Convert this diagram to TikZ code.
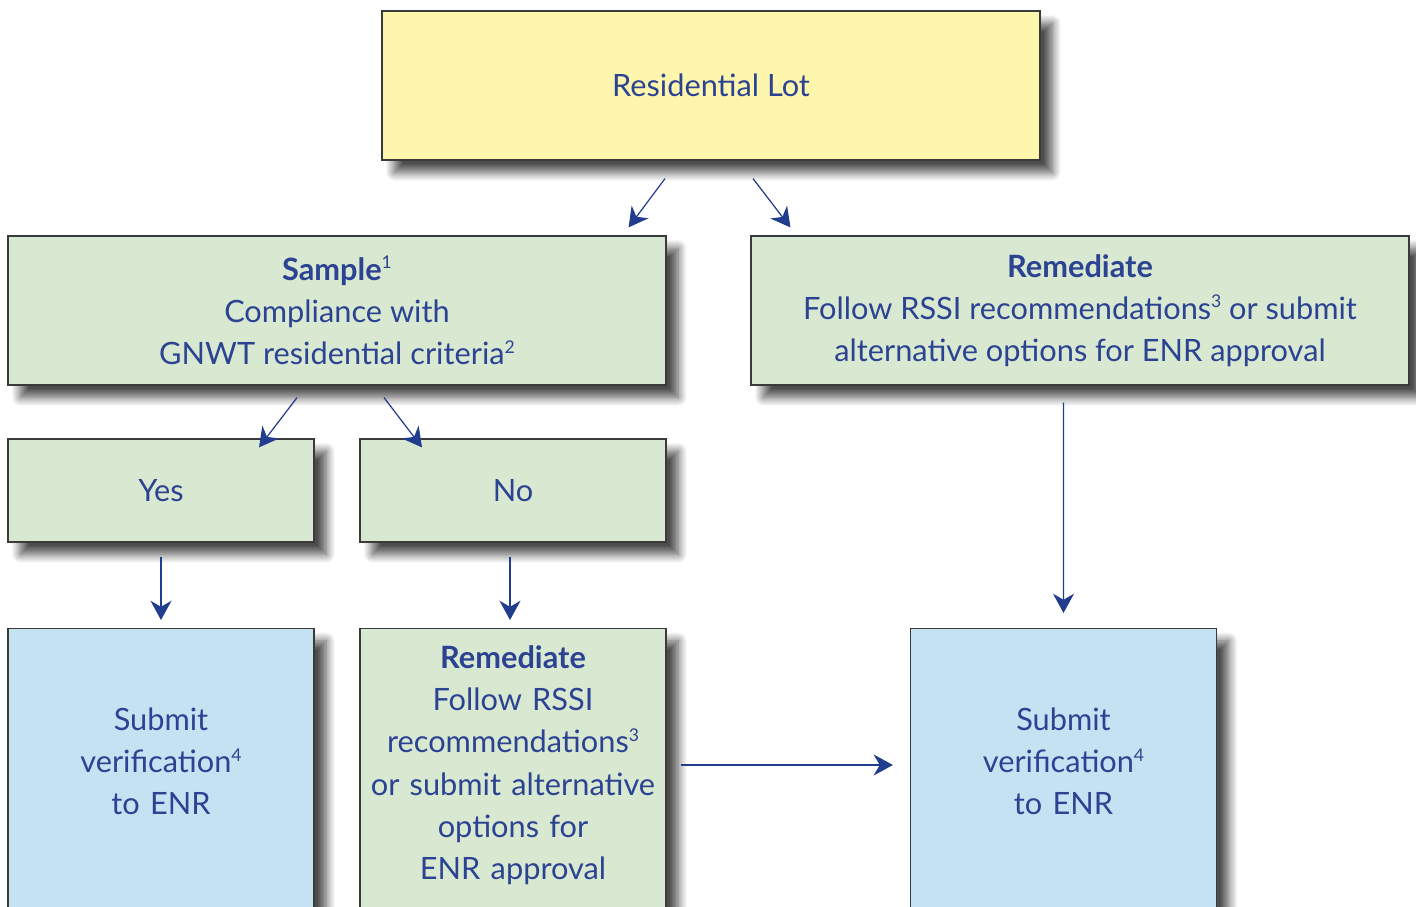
\documentclass[tikz,border=0pt]{standalone}
\usepackage{fontspec}
\setmainfont{Lato}
\usetikzlibrary{positioning, shapes.geometric, arrows.meta}
\usetikzlibrary{calc, shadows.blur}
\definecolor{lotyellow}{HTML}{FFF6AE}
\definecolor{stepgreen}{HTML}{D9E8D0}
\definecolor{submitblue}{HTML}{C5E2F2}
\definecolor{txtblue}{HTML}{2B4392}
\definecolor{arrowblue}{HTML}{223C8E}
\definecolor{edgegray}{HTML}{3A3A3A}
\newcommand{\fnote}[1]{\raisebox{0.75ex}{\fontsize{10}{10}\selectfont #1}}
\tikzstyle{box} = [rectangle, draw=edgegray, line width=0.7pt, text=txtblue, align=center, inner sep=0pt, blur shadow={shadow xshift=7pt, shadow yshift=-7pt, shadow blur radius=5pt, shadow blur steps=12, shadow opacity=70}]
\tikzstyle{lotbox} = [box, fill=lotyellow, minimum width=13.16cm, minimum height=2.98cm]
\tikzstyle{stepbox} = [box, fill=stepgreen, minimum width=13.16cm, minimum height=2.98cm]
\tikzstyle{choice} = [box, fill=stepgreen, minimum width=6.12cm, minimum height=2.06cm]
\tikzstyle{tallbox} = [box, anchor=north, minimum width=6.12cm, text width=5.8cm, text depth=6cm]
\tikzstyle{arrow} = [line width=0.7pt, draw=arrowblue, -{Stealth[length=11pt, width=12pt, inset=3.5pt]}]
\tikzstyle{every node}=[font=\fontsize{17.5}{24}\selectfont]

\begin{document}
\begin{tikzpicture}[x=0.02cm, y=-0.02cm]
		\useasboundingbox (0,0) rectangle (1416,906);
		%boxes
		\node (lot) [lotbox] at (711,85.5) {Residential Lot};
		\node (sample) [stepbox] at (337,310.5) {\textbf{Sample}\fnote{1}\\Compliance with\\GNWT residential criteria\fnote{2}};
		\node (remR) [stepbox] at (1080,310.5) {\textbf{Remediate}\\Follow RSSI recommendations\fnote{3} or submit\\alternative options for ENR approval};
		\node (yes) [choice] at (161,490.5) {Yes};
		\node (no) [choice] at (513,490.5) {No};
		\node (subL) [tallbox, fill=submitblue, text height=2.04cm] at (161,628) {Submit\\verification\fnote{4}\\to ENR};
		\node (remM) [tallbox, fill=stepgreen, text height=0.8cm] at (513,628) {\textbf{Remediate}\\Follow RSSI\\recommendations\fnote{3}\\or submit alternative\\options for\\ENR approval};
		\node (subR) [tallbox, fill=submitblue, text height=2.04cm] at (1063.5,628) {Submit\\verification\fnote{4}\\to ENR};
		
		%arrows
		\draw [arrow]([shift={(-46,18)}]lot.south) -- ([shift={(-38,-8)}]sample.north east);
		\draw [arrow]([shift={(42,18)}]lot.south) -- ([shift={(40,-8)}]remR.north west);
		\draw [arrow]([shift={(-40,12)}]sample.south) -- ([shift={(98,9)}]yes.north);
		\draw [arrow]([shift={(47,12)}]sample.south) -- ([shift={(-91,9)}]no.north);
		\draw [arrow]([shift={(0,14)}]yes.south) -- ([shift={(0,-8)}]subL.north);
		\draw [arrow]([shift={(-3,14)}]no.south) -- ([shift={(-3,-8)}]remM.north);
		\draw [arrow]([shift={(-16.5,17)}]remR.south) -- ([shift={(0,-15)}]subR.north);
		\draw [arrow]([shift={(14,137)}]remM.north east) -- ([shift={(-17,137)}]subR.north west);
	\end{tikzpicture}
\end{document}
